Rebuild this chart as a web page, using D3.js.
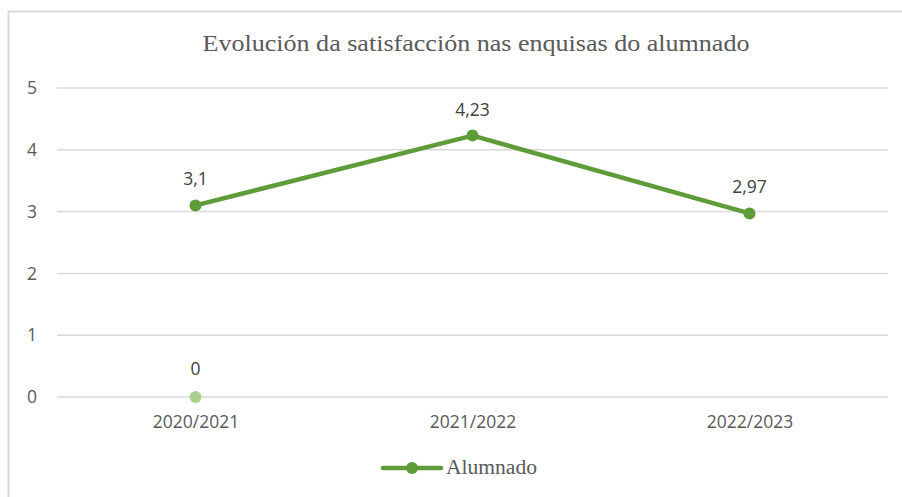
<!DOCTYPE html>
<html>
<head>
<meta charset="utf-8">
<script src="https://cdn.jsdelivr.net/npm/d3@7"></script>
<style>
  body { margin: 0; background: #fff; }
</style>
</head>
<body>
<div id="chart"></div>
<script>
// chart data
var categories = ["2020/2021", "2021/2022", "2022/2023"];
var alumnado = [3.1, 4.23, 2.97];
var extraPoint = [0];           // lone point drawn at 2020/2021
var yTicks = [0, 1, 2, 3, 4, 5];
var titleText = "Evolución da satisfacción nas enquisas do alumnado";
var seriesName = "Alumnado";

var width = 902, height = 497;
var margin = { top: 88, right: 14, bottom: 100, left: 57 };

var svg = d3.select("#chart").append("svg")
    .attr("width", width)
    .attr("height", height);

// outer frame
svg.append("rect")
    .attr("x", 8.5).attr("y", 11.5)
    .attr("width", 920).attr("height", 520)
    .attr("fill", "none")
    .attr("stroke", "#d9d9d9")
    .attr("stroke-width", 2);

svg.append("text")
    .attr("x", 476).attr("y", 51)
    .attr("text-anchor", "middle")
    .attr("font-family", "'Liberation Serif', serif")
    .attr("font-size", 23)
    .attr("textLength", 547)
    .attr("lengthAdjust", "spacingAndGlyphs")
    .attr("fill", "#595959")
    .text(titleText);

var x = d3.scalePoint()
    .domain(categories)
    .range([margin.left, width - margin.right])
    .padding(0.5);

var y = d3.scaleLinear()
    .domain([0, 5])
    .range([height - margin.bottom, margin.top]);

// gridlines
svg.append("g")
    .selectAll("line")
    .data(yTicks)
    .join("line")
    .attr("x1", margin.left)
    .attr("x2", width - margin.right)
    .attr("y1", function(d){ return y(d); })
    .attr("y2", function(d){ return y(d); })
    .attr("stroke", "#d9d9d9")
    .attr("stroke-width", 1.5);

var tickFont = "'Open Sans', 'Noto Sans', sans-serif";
var tickSize = 17.5;

// y axis
var yAxis = svg.append("g")
    .attr("transform", "translate(" + 37 + ",0)")
    .call(d3.axisLeft(y).tickValues(yTicks).tickFormat(d3.format("d")).tickSize(0).tickPadding(0));
yAxis.select(".domain").remove();
yAxis.selectAll("text")
    .attr("font-family", tickFont)
    .attr("font-size", tickSize)
    .attr("fill", "#595959");

// x axis
var xAxis = svg.append("g")
    .attr("transform", "translate(0," + y(0) + ")")
    .call(d3.axisBottom(x).tickSize(0).tickPadding(19));
xAxis.select(".domain").remove();
xAxis.selectAll("text")
    .attr("font-family", tickFont)
    .attr("font-size", tickSize)
    .attr("fill", "#595959");

var green = "#5e9c3a";

var line = d3.line()
    .x(function(d, i){ return x(categories[i]); })
    .y(function(d){ return y(d); });

svg.append("path")
    .datum(alumnado)
    .attr("d", line)
    .attr("fill", "none")
    .attr("stroke", green)
    .attr("stroke-width", 4.5)
    .attr("stroke-linejoin", "round");

svg.selectAll(".dot")
    .data(alumnado)
    .join("circle")
    .attr("class", "dot")
    .attr("cx", function(d, i){ return x(categories[i]); })
    .attr("cy", function(d){ return y(d); })
    .attr("r", 6)
    .attr("fill", green);

svg.selectAll(".lbl")
    .data(alumnado)
    .join("text")
    .attr("class", "lbl")
    .attr("x", function(d, i){ return x(categories[i]); })
    .attr("y", function(d){ return y(d) - 20; })
    .attr("text-anchor", "middle")
    .attr("font-family", tickFont)
    .attr("font-size", tickSize)
    .attr("fill", "#404040")
    .text(function(d){ return String(d).replace(".", ","); });

// the extra light-green point
svg.selectAll(".xdot")
    .data(extraPoint)
    .join("circle")
    .attr("class", "xdot")
    .attr("cx", function(d, i){ return x(categories[i]); })
    .attr("cy", function(d){ return y(d); })
    .attr("r", 6)
    .attr("fill", "#a9d08e");

svg.selectAll(".xlbl")
    .data(extraPoint)
    .join("text")
    .attr("class", "xlbl")
    .attr("x", function(d, i){ return x(categories[i]); })
    .attr("y", function(d){ return y(d) - 22; })
    .attr("text-anchor", "middle")
    .attr("font-family", tickFont)
    .attr("font-size", tickSize)
    .attr("fill", "#404040")
    .text(function(d){ return String(d); });

// legend
var lg = svg.append("g").attr("transform", "translate(383,468)");
lg.append("line")
    .attr("x1", 0).attr("x2", 58)
    .attr("stroke", green).attr("stroke-width", 4.5)
    .attr("stroke-linecap", "round");
lg.append("circle").attr("cx", 29).attr("r", 6).attr("fill", green);
lg.append("text")
    .attr("x", 63).attr("y", 6)
    .attr("font-family", "'Liberation Serif', serif")
    .attr("font-size", 20)
    .attr("textLength", 91)
    .attr("lengthAdjust", "spacingAndGlyphs")
    .attr("fill", "#595959")
    .text(seriesName);
</script>
</body>
</html>
